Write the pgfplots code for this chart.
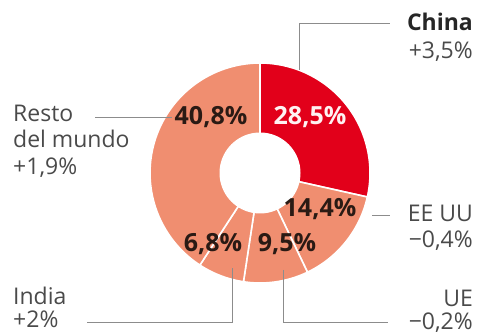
\documentclass[border=0pt]{standalone}
\usepackage{pgfplots}
\pgfplotsset{compat=1.18}
\usepackage{pgfplotstable}
\usepackage{fontspec}
\setmainfont{Open Sans}
\definecolor{cred}{HTML}{E2001A}
\definecolor{csal}{HTML}{F08E70}
\definecolor{ctxt}{HTML}{4A4A4A}
\definecolor{cline}{HTML}{8C8C8C}
\definecolor{cdark}{HTML}{2A1A14}
\pgfplotstableread{
name share
China 28.5
EEUU 14.4
UE 9.5
India 6.8
Resto 40.8
}\shares
\begin{document}
\begin{tikzpicture}
\pgfplotstablegetelem{0}{share}\of\shares \pgfmathsetmacro{\sA}{\pgfplotsretval}
\pgfplotstablegetelem{1}{share}\of\shares \pgfmathsetmacro{\sB}{\pgfplotsretval}
\pgfplotstablegetelem{2}{share}\of\shares \pgfmathsetmacro{\sC}{\pgfplotsretval}
\pgfplotstablegetelem{3}{share}\of\shares \pgfmathsetmacro{\sD}{\pgfplotsretval}
\pgfplotstablegetelem{4}{share}\of\shares \pgfmathsetmacro{\sE}{\pgfplotsretval}
\pgfmathsetmacro{\aA}{90}
\pgfmathsetmacro{\aB}{\aA-3.6*\sA}
\pgfmathsetmacro{\aC}{\aB-3.6*\sB}
\pgfmathsetmacro{\aD}{\aC-3.6*\sC}
\pgfmathsetmacro{\aE}{\aD-3.6*\sD}
\pgfmathsetmacro{\aF}{\aE-3.6*\sE}
\begin{axis}[
  scale only axis, width=478pt, height=336pt,
  xmin=0, xmax=478, ymin=0, ymax=336,
  hide axis, clip=false, no markers,
]
\addplot[draw=none, forget plot] coordinates {(0,0) (478,336)};
% sectors
\addplot[fill=cred, draw=white, line width=1.6pt, domain=\aB:\aA, samples=60, variable=\t]
  ({260+110*cos(\t)},{163+110*sin(\t)}) -- (axis cs:260,163) -- cycle;
\addplot[fill=csal, draw=white, line width=1.6pt, domain=\aC:\aB, samples=40, variable=\t]
  ({260+110*cos(\t)},{163+110*sin(\t)}) -- (axis cs:260,163) -- cycle;
\addplot[fill=csal, draw=white, line width=1.6pt, domain=\aD:\aC, samples=30, variable=\t]
  ({260+110*cos(\t)},{163+110*sin(\t)}) -- (axis cs:260,163) -- cycle;
\addplot[fill=csal, draw=white, line width=1.6pt, domain=\aE:\aD, samples=30, variable=\t]
  ({260+110*cos(\t)},{163+110*sin(\t)}) -- (axis cs:260,163) -- cycle;
\addplot[fill=csal, draw=white, line width=1.6pt, domain=\aF:\aE, samples=80, variable=\t]
  ({260+110*cos(\t)},{163+110*sin(\t)}) -- (axis cs:260,163) -- cycle;
% hole
\addplot[fill=white, draw=white, line width=1pt, domain=0:360, samples=100, variable=\t]
  ({260+40*cos(\t)},{163+40*sin(\t)}) -- cycle;
% leader lines
\addplot[cline, line width=0.8pt] coordinates {(299,266) (299,313) (390,313)};
\addplot[cline, line width=0.8pt] coordinates {(95,219) (172,219)};
\addplot[cline, line width=0.8pt] coordinates {(372,121) (390,121)};
\addplot[cline, line width=0.8pt] coordinates {(283,66) (283,14) (388,14)};
\addplot[cline, line width=0.8pt] coordinates {(87,14) (232,14) (232,68)};
% values
\begin{scope}[every node/.style={font=\fontsize{25}{30}\selectfont\bfseries, anchor=base}]
\node[text=white!95!red] at (310,211) {28,5\%};
\node[text=cdark] at (211,211) {40,8\%};
\node[text=cdark] at (320,119) {14,4\%};
\node[text=cdark] at (287,84) {9,5\%};
\node[text=cdark] at (213,84) {6,8\%};
\end{scope}
% labels
\begin{scope}[every node/.style={font=\fontsize{23}{27}\selectfont, text=ctxt, inner sep=0pt}]
\node[anchor=base east, font=\fontsize{23}{27}\selectfont\bfseries, text=black!85] at (473,305) {China};
\node[anchor=base east] at (473,277) {+3,5\%};
\node[anchor=base west] at (13,214) {Resto};
\node[anchor=base west] at (13,188) {del mundo};
\node[anchor=base west] at (13,161) {+1,9\%};
\node[anchor=base east] at (473,114) {EE UU};
\node[anchor=base east] at (473,88) {−0,4\%};
\node[anchor=base east] at (473,29) {UE};
\node[anchor=base east] at (473,6) {−0,2\%};
\node[anchor=base west] at (13,31) {India};
\node[anchor=base west] at (13,8) {+2\%};
\end{scope}
\end{axis}
\end{tikzpicture}
\end{document}
